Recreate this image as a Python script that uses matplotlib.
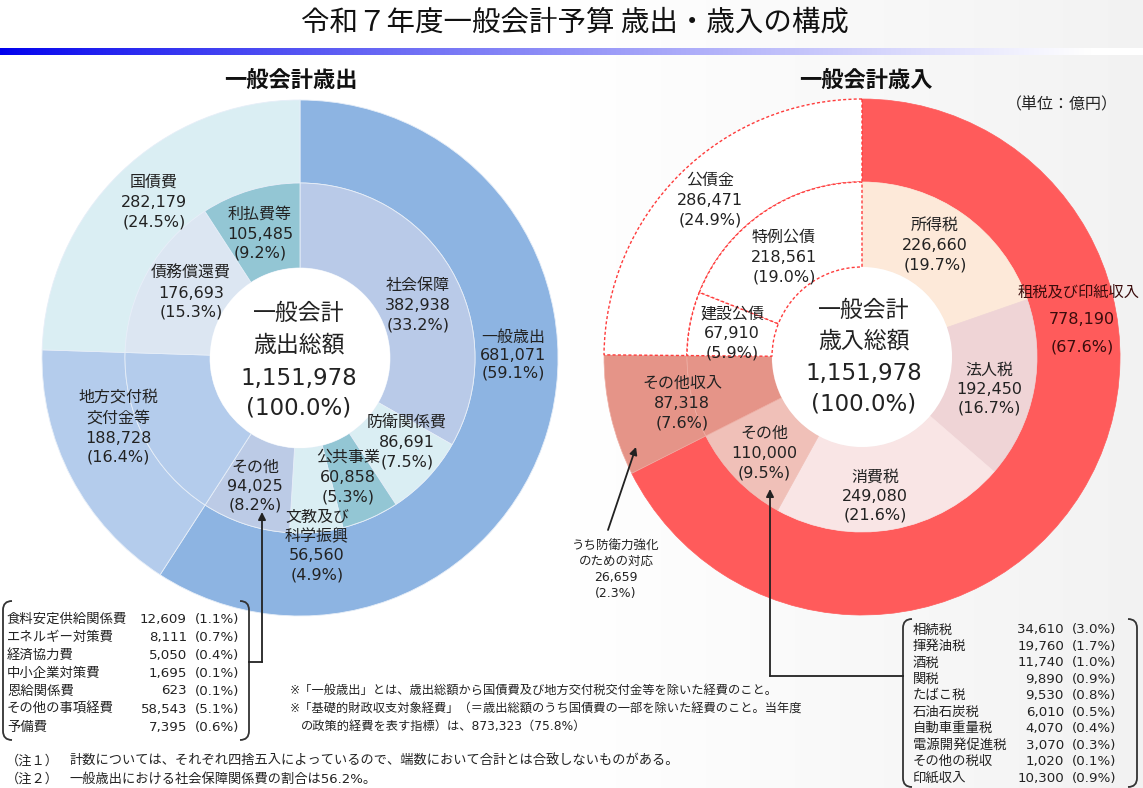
import matplotlib
matplotlib.use('Agg')
import matplotlib.pyplot as plt
import numpy as np
from matplotlib.path import Path
from matplotlib.patches import PathPatch, Circle

# ---------------- data ----------------
TOTAL = 1151978

exp_outer_labels = ["一般歳出", "地方交付税\n交付金等", "国債費"]
exp_outer_values = [681071, 188728, 282179]
exp_outer_pcts = [59.1, 16.4, 24.5]

exp_inner_labels = ["社会保障", "防衛関係費", "公共事業", "文教及び\n科学振興", "その他",
                    "地方交付税\n交付金等", "債務償還費", "利払費等"]
exp_inner_values = [382938, 86691, 60858, 56560, 94025, 188728, 176693, 105485]
exp_inner_pcts = [33.2, 7.5, 5.3, 4.9, 8.2, 16.4, 15.3, 9.2]

rev_outer_labels = ["租税及び印紙収入", "その他収入", "公債金"]
rev_outer_values = [778190, 87318, 286471]
rev_outer_pcts = [67.6, 7.6, 24.9]

rev_inner_labels = ["所得税", "法人税", "消費税", "その他", "その他収入", "建設公債", "特例公債"]
rev_inner_values = [226660, 192450, 249080, 110000, 87318, 67910, 218561]
rev_inner_pcts = [19.7, 16.7, 21.6, 9.5, 7.6, 5.9, 19.0]

defense_label = ["うち防衛力強化", "のための対応"]
defense_value = 26659
defense_pct = 2.3

other_exp_labels = ["食料安定供給関係費", "エネルギー対策費", "経済協力費", "中小企業対策費",
                    "恩給関係費", "その他の事項経費", "予備費"]
other_exp_values = [12609, 8111, 5050, 1695, 623, 58543, 7395]
other_exp_pcts = [1.1, 0.7, 0.4, 0.1, 0.1, 5.1, 0.6]

other_tax_labels = ["相続税", "揮発油税", "酒税", "関税", "たばこ税", "石油石炭税",
                    "自動車重量税", "電源開発促進税", "その他の税収", "印紙収入"]
other_tax_values = [34610, 19760, 11740, 9890, 9530, 6010, 4070, 3070, 1020, 10300]
other_tax_pcts = [3.0, 1.7, 1.0, 0.9, 0.8, 0.5, 0.4, 0.3, 0.1, 0.9]

primary_balance_value = 873323
primary_balance_pct = 75.8
social_share_pct = 56.2

# ---------------- style ----------------
exp_outer_colors = ["#8DB4E2", "#B4CCEC", "#DAEEF3"]
exp_inner_colors = ["#B9CAE8", "#DAEEF3", "#93C6D4", "#DAEEF3", "#BCCBE6",
                    "#B4CCEC", "#DCE6F2", "#93C6D4"]
rev_outer_colors = ["#FF5B5B", "#E59488", "#FFFFFF"]
rev_inner_colors = ["#FDE9D9", "#EFD4D6", "#F9E5E5", "#F0C0B8", "#E59488", "#FFFFFF", "#FFFFFF"]

FAM = ['DejaVu Sans', 'Noto Sans CJK JP']
JP = ['Noto Sans CJK JP', 'DejaVu Sans']
TXT = '#222222'

W, H = 1143, 788
fig = plt.figure(figsize=(W / 100, H / 100), dpi=100)
ax = fig.add_axes([0, 0, 1, 1])


def Y(py):
    return H - py


# background gradient (white -> light grey on the right)
xs = np.linspace(0, 1, 400)
g = 1 - 0.05 * np.clip((xs - 0.5) / 0.5, 0, 1)
bg = np.dstack([g, g, g]).reshape(1, -1, 3)
ax.imshow(bg, extent=(0, W, 0, H), aspect='auto', zorder=0, interpolation='bilinear')

# blue gradient bar under title
t = np.clip(np.linspace(0, 1, 600) * W / 1090, 0, 1) ** 0.85
blue = np.array([0.0, 0.0, 0.93])
bar = (1 - t)[:, None] * blue[None, :] + t[:, None] * np.array([1, 1, 1])[None, :]
ax.imshow(bar[None, :, :], extent=(0, W, Y(55), Y(48)), aspect='auto', zorder=1,
          interpolation='bilinear')

# ---------------- donuts ----------------
R_OUT, R_MID, R_IN = 258, 175, 90
LC = (300, Y(358))
RC = (862, Y(357))

wl_out, _ = ax.pie(exp_outer_values, colors=exp_outer_colors, radius=R_OUT, center=LC,
                   startangle=90, counterclock=False, frame=True,
                   wedgeprops=dict(width=R_OUT - R_MID, edgecolor='#e6eef8', linewidth=0.6))
wl_in, _ = ax.pie(exp_inner_values, colors=exp_inner_colors, radius=R_MID, center=LC,
                  startangle=90, counterclock=False, frame=True,
                  wedgeprops=dict(width=R_MID - R_IN, edgecolor='#e6eef8', linewidth=0.6))

wr_out, _ = ax.pie(rev_outer_values, colors=rev_outer_colors, radius=R_OUT, center=RC,
                   startangle=90, counterclock=False, frame=True,
                   wedgeprops=dict(width=R_OUT - R_MID, linewidth=0.5))
wr_in, _ = ax.pie(rev_inner_values, colors=rev_inner_colors, radius=R_MID, center=RC,
                  startangle=90, counterclock=False, frame=True,
                  wedgeprops=dict(width=R_MID - R_IN, linewidth=0.5))

# white centre holes
for c in (LC, RC):
    ax.add_patch(Circle(c, R_IN, facecolor='white', edgecolor='none', zorder=1.5))

for w in list(wr_out) + list(wr_in):
    w.set_edgecolor(w.get_facecolor())
wr_out[1].set_edgecolor('#eeaea4')
wr_in[4].set_edgecolor('#eeaea4')
for w in [wr_out[2], wr_in[5], wr_in[6]]:
    w.set_facecolor('white')
    w.set_edgecolor('#FF3B3B')
    w.set_linestyle((0, (2.2, 1.6)))
    w.set_linewidth(1.0)
    w.set_zorder(5)


def put(x, y, s, size=11.5, ha='center', va='center', color=TXT, family=FAM, **kw):
    ax.text(x, Y(y), s, fontsize=size, family=family, ha=ha, va=va, color=color, zorder=10, **kw)


def label(x, ys, name, value, pct, size=11.5, color=TXT):
    lines = name.split('\n') + [f"{value:,}", f"({pct:.1f}%)"]
    for yy, s in zip(ys, lines):
        put(x, yy, s, size=size, color=color)


# left labels (layout positions)
left_pos_outer = {0: (513, [337, 355, 373]), 1: (118, [398, 418, 438, 457]), 2: (154, [182, 202, 222])}
for i, (x, ys) in left_pos_outer.items():
    label(x, ys, exp_outer_labels[i], exp_outer_values[i], exp_outer_pcts[i])
left_pos_inner = {0: (418, [285, 305, 325]), 1: (407, [422, 442, 462]), 2: (348, [457, 477, 497]),
                  3: (317, [517, 537, 556, 575]), 4: (255, [467, 486, 505]),
                  6: (191, [273, 293, 312]), 7: (260, [214, 234, 253])}
for i, (x, ys) in left_pos_inner.items():
    label(x, ys, exp_inner_labels[i], exp_inner_values[i], exp_inner_pcts[i])

# right labels
right_pos_inner = {0: (935, [225, 245, 265]), 1: (989, [370, 389, 408]), 2: (875, [477, 496, 515]),
                   3: (764, [433, 453, 473]), 5: (732, [314, 333, 353]), 6: (784, [237, 257, 277])}
for i, (x, ys) in right_pos_inner.items():
    label(x, ys, rev_inner_labels[i], rev_inner_values[i], rev_inner_pcts[i])
label(710, [180, 200, 220], rev_outer_labels[2], rev_outer_values[2], rev_outer_pcts[2])
label(682, [383, 403, 423], rev_outer_labels[1], rev_outer_values[1], rev_outer_pcts[1])
DARK = '#3a0c0c'
put(1018, 292, rev_outer_labels[0], size=11, ha='left', color=DARK)
put(1082, 319, f"{rev_outer_values[0]:,}", size=11.5, color=DARK)
put(1082, 347, f"({rev_outer_pcts[0]:.1f}%)", size=11.5, color=DARK)

# centre texts
for cx, ys, word in [(299, [313, 345, 378, 408], "歳出総額"), (864, [310, 341, 373, 404], "歳入総額")]:
    for yy, s in zip(ys, ["一般会計", word, f"{TOTAL:,}", "(100.0%)"]):
        put(cx, yy, s, size=16.5)

# defense note
for yy, s in zip([545, 561, 577, 593], defense_label + [f"{defense_value:,}", f"({defense_pct:.1f}%)"]):
    put(616, yy, s, size=9)

# ---------------- titles ----------------
put(575, 22, "令和７年度一般会計予算 歳出・歳入の構成", size=20.5, family=JP, color='#111111')
put(291, 80, "一般会計歳出", size=16, family=JP, weight='bold', color='#111111')
put(866, 80, "一般会計歳入", size=16, family=JP, weight='bold', color='#111111')
put(1118, 105, "（単位：億円）", size=11.5, ha='right', family=JP)


# ---------------- bracket boxes ----------------
def bracket(x0, x1, y0, y1, r=9):
    for xa, sgn in [(x0, 1), (x1, -1)]:
        verts = [(xa + sgn * r, Y(y0)), (xa, Y(y0)), (xa, Y(y0 + r)),
                 (xa, Y(y1 - r)), (xa, Y(y1)), (xa + sgn * r, Y(y1))]
        codes = [Path.MOVETO, Path.CURVE3, Path.CURVE3, Path.LINETO, Path.CURVE3, Path.CURVE3]
        ax.add_patch(PathPatch(Path(verts, codes), fill=False, edgecolor='#333333', lw=1.3, zorder=8))


bracket(3, 249, 601, 740)
for i, (n, v, p) in enumerate(zip(other_exp_labels, other_exp_values, other_exp_pcts)):
    yy = 619 + 18 * i
    put(7, yy, n, size=9.6, ha='left')
    put(187, yy, f"{v:,}", size=9.6, ha='right')
    put(195, yy, f"({p:.1f}%)", size=9.6, ha='left')

bracket(903, 1137, 619, 787)
for i, (n, v, p) in enumerate(zip(other_tax_labels, other_tax_values, other_tax_pcts)):
    yy = 630 + 16.45 * i
    put(913, yy, n, size=9.6, ha='left')
    put(1064, yy, f"{v:,}", size=9.6, ha='right')
    put(1072, yy, f"({p:.1f}%)", size=9.6, ha='left')

# connectors and arrows
ap = dict(arrowstyle='-|>', color='#222222', lw=1.3, mutation_scale=11, shrinkA=0, shrinkB=0)
ax.plot([249, 262], [Y(662), Y(662)], color='#222222', lw=1.3, zorder=8)
ax.annotate('', xy=(262, Y(512)), xytext=(262, Y(662)), arrowprops=ap, zorder=9)
ax.plot([903, 770], [Y(676), Y(676)], color='#222222', lw=1.3, zorder=8)
ax.annotate('', xy=(770, Y(489)), xytext=(770, Y(676)), arrowprops=ap, zorder=9)
ax.annotate('', xy=(636, Y(447)), xytext=(608, Y(530)), arrowprops=ap, zorder=9)

# ---------------- notes ----------------
put(290, 690, "※「一般歳出」とは、歳出総額から国債費及び地方交付税交付金等を除いた経費のこと。",
    size=8.8, ha='left')
put(290, 708, "※「基礎的財政収支対象経費」（＝歳出総額のうち国債費の一部を除いた経費のこと。当年度",
    size=8.8, ha='left')
put(301, 726, f"の政策的経費を表す指標）は、{primary_balance_value:,}（{primary_balance_pct:.1f}%）",
    size=8.8, ha='left')
put(6, 761, "（注１）", size=9.5, ha='left')
put(69, 761, "計数については、それぞれ四捨五入によっているので、端数において合計とは合致しないものがある。",
    size=9.5, ha='left')
put(6, 779, "（注２）", size=9.5, ha='left')
put(69, 779, f"一般歳出における社会保障関係費の割合は{social_share_pct:.1f}%。", size=9.5, ha='left')

ax.set_xlim(0, W)
ax.set_ylim(0, H)
ax.set_aspect('auto')
ax.axis('off')
fig.savefig('out.png', dpi=100)
